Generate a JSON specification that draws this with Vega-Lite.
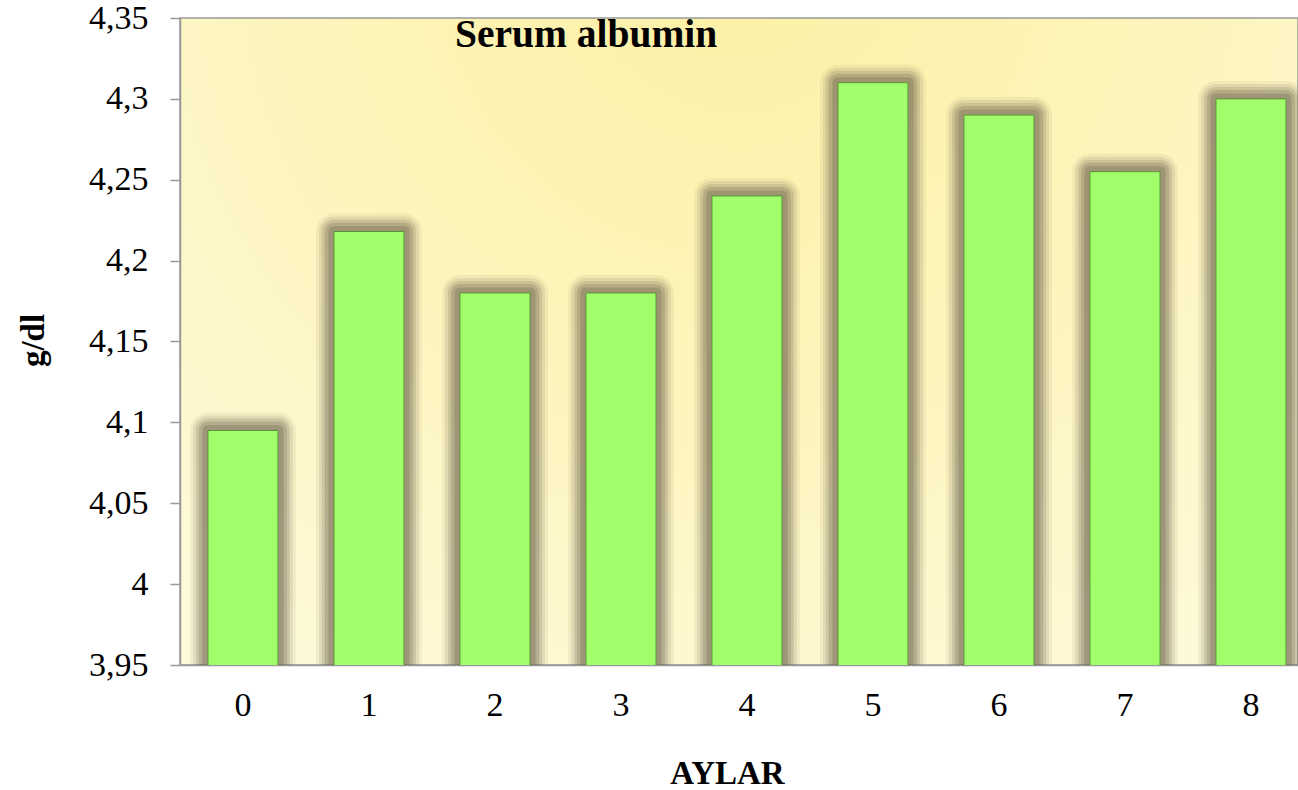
{
  "$schema": "https://vega.github.io/schema/vega-lite/v6.json",
  "autosize": "none",
  "width": 1118,
  "height": 647,
  "padding": {"left": 180, "top": 18, "right": 0, "bottom": 125},
  "background": "white",
  "title": {
    "text": "Serum albumin",
    "anchor": "start",
    "frame": "group",
    "dx": 275,
    "dy": 89,
    "baseline": "alphabetic",
    "font": "Liberation Serif",
    "fontSize": 39.5,
    "fontWeight": "bold",
    "color": "black"
  },
  "config": {
    "view": {
      "stroke": "#999999",
      "strokeWidth": 1.5,
      "fill": {
        "gradient": "radial",
        "x1": 0.5, "y1": 0.15, "r1": 0,
        "x2": 0.5, "y2": 0.15, "r2": 0.9,
        "stops": [
          {"offset": 0, "color": "#fcf0a4"},
          {"offset": 0.5, "color": "#fdf5c0"},
          {"offset": 1, "color": "#fefce4"}
        ]
      }
    }
  },
  "data": {
    "values": [
      {"ay": "0", "albumin": 4.095},
      {"ay": "1", "albumin": 4.218},
      {"ay": "2", "albumin": 4.18},
      {"ay": "3", "albumin": 4.18},
      {"ay": "4", "albumin": 4.24},
      {"ay": "5", "albumin": 4.31},
      {"ay": "6", "albumin": 4.29},
      {"ay": "7", "albumin": 4.255},
      {"ay": "8", "albumin": 4.3}
    ]
  },
  "encoding": {
    "x": {
      "field": "ay",
      "type": "nominal",
      "sort": null,
      "title": "AYLAR",
      "scale": {"paddingInner": 0.444, "paddingOuter": 0.1585, "align": 0.7},
      "axis": {
        "labelAngle": 0,
        "labelFont": "Liberation Serif",
        "labelFontSize": 34,
        "labelColor": "black",
        "labelPadding": 23,
        "ticks": false,
        "domainColor": "#999999",
        "domainWidth": 1.5,
        "titleFont": "Liberation Serif",
        "titleFontSize": 33,
        "titleFontWeight": "bold",
        "titleColor": "black",
        "titleBaseline": "alphabetic",
        "titleX": 547,
        "titleY": 118,
        "titleAnchor": "middle"
      }
    },
    "y": {
      "field": "albumin",
      "type": "quantitative",
      "title": "g/dl",
      "scale": {"domain": [3.95, 4.35], "nice": false, "zero": false},
      "axis": {
        "values": [3.95, 4, 4.05, 4.1, 4.15, 4.2, 4.25, 4.3, 4.35],
        "format": ".2~f",
        "labelExpr": "replace(datum.label, '.', ',')",
        "labelFont": "Liberation Serif",
        "labelFontSize": 34,
        "labelColor": "black",
        "labelPadding": 22,
        "tickSize": 10,
        "tickColor": "#999999",
        "tickWidth": 1.5,
        "domainColor": "#999999",
        "domainWidth": 1.5,
        "grid": false,
        "titleFont": "Liberation Serif",
        "titleFontSize": 33,
        "titleFontWeight": "bold",
        "titleColor": "black",
        "titleX": -147,
        "titleY": 322,
        "titleBaseline": "middle"
      }
    }
  },
  "layer": [
    {"mark": {"type": "bar", "clip": true, "fillOpacity": 0, "stroke": "#6f6650", "strokeWidth": 36, "strokeOpacity": 0.08, "strokeJoin": "round"}},
    {"mark": {"type": "bar", "clip": true, "fillOpacity": 0, "stroke": "#6f6650", "strokeWidth": 30, "strokeOpacity": 0.12, "strokeJoin": "round"}},
    {"mark": {"type": "bar", "clip": true, "fillOpacity": 0, "stroke": "#6f6650", "strokeWidth": 24, "strokeOpacity": 0.18, "strokeJoin": "round"}},
    {"mark": {"type": "bar", "clip": true, "fillOpacity": 0, "stroke": "#6f6650", "strokeWidth": 18, "strokeOpacity": 0.25, "strokeJoin": "round"}},
    {"mark": {"type": "bar", "clip": true, "fillOpacity": 0, "stroke": "#6f6650", "strokeWidth": 11, "strokeOpacity": 0.32, "strokeJoin": "round"}},
    {"mark": {"type": "bar", "clip": true, "fill": "#a2fd6a", "fillOpacity": 1, "stroke": "#5a9438", "strokeWidth": 1}}
  ]
}
